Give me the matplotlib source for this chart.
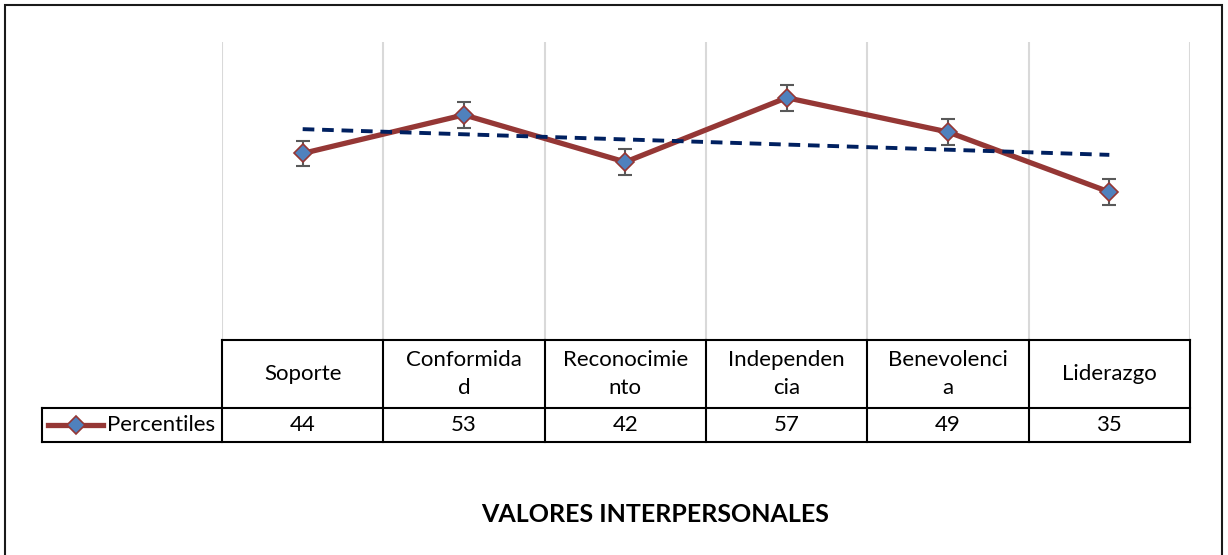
import numpy as np
import matplotlib
matplotlib.use("Agg")
import matplotlib.pyplot as plt
from matplotlib.lines import Line2D
from matplotlib.patches import Rectangle

plt.rcParams['font.family'] = ['Lato', 'DejaVu Sans']

# data
categorias = ["Soporte", "Conformidad", "Reconocimiento", "Independencia",
              "Benevolencia", "Liderazgo"]
etiquetas = ["Soporte", "Conformida\nd", "Reconocimie\nnto", "Independen\ncia",
             "Benevolenci\na", "Liderazgo"]
percentiles = [44, 53, 42, 57, 49, 35]
error = [3, 3, 3, 3, 3, 3]
serie = "Percentiles"
titulo = "VALORES INTERPERSONALES"

W, H = 1228, 555
fig = plt.figure(figsize=(W / 100, H / 100), dpi=100)

# outer frame (bottom edge falls outside the image)
fig.add_artist(Rectangle((5 / W, -0.05), (1222 - 5) / W, (H - 5) / H + 0.05,
                         transform=fig.transFigure, fill=False,
                         edgecolor="#1a1a1a", linewidth=1.5))

x = np.arange(1, len(percentiles) + 1)
red = "#953735"
blue = "#4F81BD"

# plot area
ax = fig.add_axes([222 / W, (H - 342) / H, (1190 - 222) / W, 300 / H])
ax.set_xlim(0.5, 6.5)
ax.set_ylim(0, 70)
for s in ax.spines.values():
    s.set_visible(False)
ax.set_xticks([])
ax.set_yticks([])
for g in np.arange(0.5, 7, 1):
    ax.axvline(g, color="#D9D9D9", linewidth=1.5, zorder=0)

ax.errorbar(x, percentiles, yerr=error, fmt="none", ecolor="#595959",
            elinewidth=1.5, capsize=5, capthick=1.5, zorder=2)
ax.plot(x, percentiles, color=red, linewidth=3.8, marker="D", markersize=9.5,
        markerfacecolor=blue, markeredgecolor=red, markeredgewidth=1.2, zorder=3)

# linear trendline
m, b = np.polyfit(x, percentiles, 1)
ax.plot(x, m * x + b, color="#002060", linewidth=2.8, linestyle=(0, (3, 2)), zorder=4)

# data table
tx0 = 42
unit = (1190 - 222) / 6
tax = fig.add_axes([tx0 / W, (H - 442) / H, (1190 - tx0) / W, 102 / H])
left = 0.5 - (222 - tx0) / unit
tax.set_xlim(left, 6.5)
tax.set_ylim(102, 0)
tax.axis("off")
lw = 1.5
tax.plot([0.5, 6.5], [0, 0], color="black", lw=lw, clip_on=False)
tax.plot([left, 6.5], [68, 68], color="black", lw=lw, clip_on=False)
tax.plot([left, 6.5], [102, 102], color="black", lw=lw, clip_on=False)
for g in np.arange(0.5, 7, 1):
    tax.plot([g, g], [0, 102], color="black", lw=lw, clip_on=False)
tax.plot([left, left], [68, 102], color="black", lw=lw, clip_on=False)

fs = 16
for i, (lab, v) in enumerate(zip(etiquetas, percentiles)):
    tax.text(x[i], 34, lab, ha="center", va="center", fontsize=fs,
             linespacing=1.55)
    tax.text(x[i], 85, str(v), ha="center", va="center", fontsize=fs)

# legend key inside the table
px = lambda p: left + (p - tx0) / unit
tax.add_line(Line2D([px(48), px(103)], [85, 85], color=red, linewidth=3.8))
tax.add_line(Line2D([px(75.5)], [85], marker="D", markersize=9.5,
                    markerfacecolor=blue, markeredgecolor=red,
                    markeredgewidth=1.2, linestyle="none"))
tax.text(px(107), 85, serie, ha="left", va="center", fontsize=fs)

fig.text(655 / W, (H - 514) / H, titulo, ha="center", va="center",
         fontsize=18, fontweight="bold")

fig.savefig("out.png", dpi=100)
